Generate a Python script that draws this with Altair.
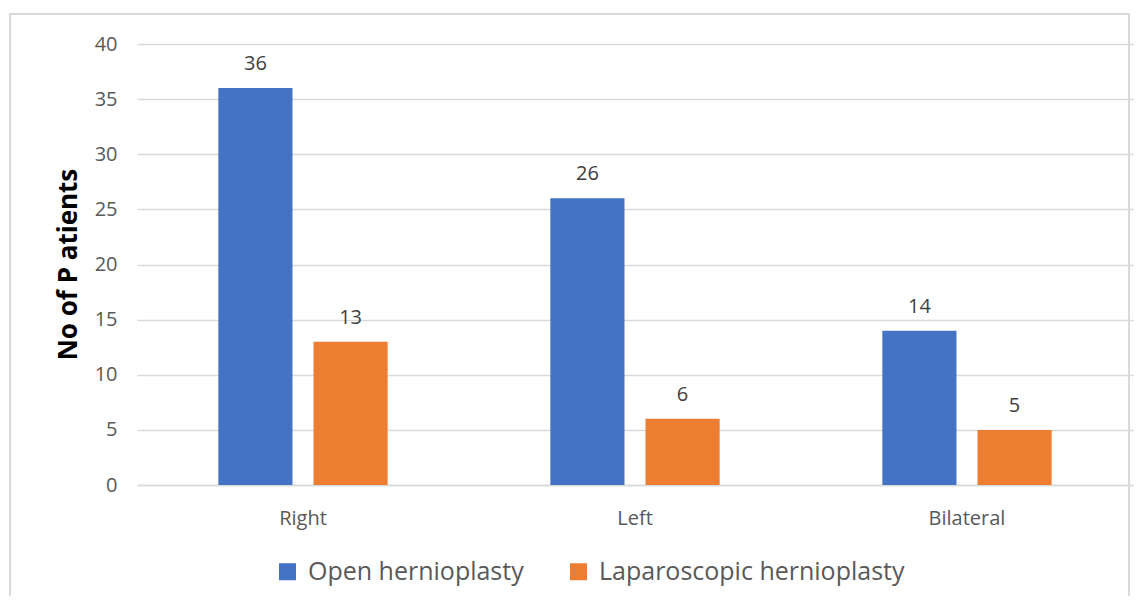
import altair as alt
import pandas as pd

categories = ["Right", "Left", "Bilateral"]
series = ["Open hernioplasty", "Laparoscopic hernioplasty"]
open_vals = [36, 26, 14]
lap_vals = [13, 6, 5]

rows = []
for c, o, l in zip(categories, open_vals, lap_vals):
    rows.append({"side": c, "method": series[0], "n": o})
    rows.append({"side": c, "method": series[1], "n": l})
df = pd.DataFrame(rows)

FONT = "Open Sans"

x = alt.X("side:N", sort=categories, title=None,
          scale=alt.Scale(paddingInner=0.49, paddingOuter=0.245),
          axis=alt.Axis(labelAngle=0, labelFontSize=20, labelColor="#595959",
                        labelFont=FONT, labelPadding=23, ticks=False, grid=False,
                        domainColor="#D9D9D9", domainWidth=1.5))
xoff = alt.XOffset("method:N", sort=series,
                   scale=alt.Scale(paddingInner=0.221, paddingOuter=0))
y = alt.Y("n:Q", title="No of P atients",
          scale=alt.Scale(domain=[0, 40]),
          axis=alt.Axis(values=list(range(0, 41, 5)), labelFontSize=20,
                        labelColor="#595959", labelFont=FONT, labelPadding=20,
                        ticks=False, domain=False, gridColor="#D9D9D9",
                        gridWidth=1.5, titleFontSize=26, titleFont=FONT,
                        titleFontWeight="bold", titleColor="#000000",
                        titleX=-69, titleY=220, titleAngle=270,
                        titleAlign="center", titleBaseline="middle"))
color = alt.Color("method:N", sort=series,
                  scale=alt.Scale(domain=series, range=["#4472C4", "#ED7D31"]),
                  legend=alt.Legend(title=None, orient="none", direction="horizontal",
                                    legendX=138, legendY=515, symbolType="square",
                                    symbolSize=289, symbolStrokeWidth=0,
                                    labelFontSize=25, labelFont=FONT, labelLimit=0,
                                    labelOffset=8, labelColor="#595959",
                                    columnPadding=42, symbolOpacity=1))

bars = alt.Chart(df).mark_bar().encode(x=x, xOffset=xoff, y=y, color=color)
labels = alt.Chart(df).mark_text(dy=-14, fontSize=20, font=FONT, color="#404040",
                                 baseline="bottom").encode(
    x=alt.X("side:N", sort=categories),
    xOffset=alt.XOffset("method:N", sort=series),
    y="n:Q", text="n:Q")

border = alt.Chart(df).mark_rect(fill=None, stroke="#D9D9D9", strokeWidth=1.5).encode(
    x=alt.value(-127), x2=alt.value(992), y=alt.value(-30), y2=alt.value(600))

chart = alt.layer(border, bars, labels).properties(
    width=996, height=441, background="white",
    padding={"left": 129, "top": 36, "right": 6, "bottom": 111},
    autosize=alt.AutoSizeParams(type="none")
).configure_view(stroke=None)

chart.save("out.html", embed_options={"renderer": "svg", "actions": False})
